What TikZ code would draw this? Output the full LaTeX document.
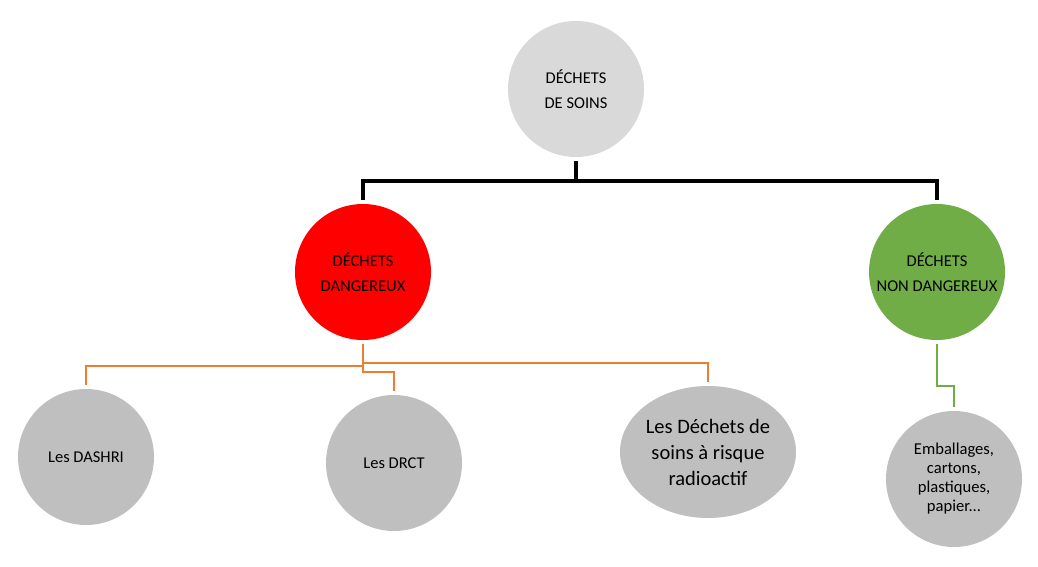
\documentclass[tikz,border=0pt]{standalone}
\usepackage{fontspec}
\setmainfont{Carlito}
\usepackage{tikz}
\usetikzlibrary{shapes.geometric,positioning,calc}
\definecolor{topgray}{HTML}{D9D9D9}
\definecolor{leafgray}{HTML}{BFBFBF}
\definecolor{dangred}{HTML}{FF0000}
\definecolor{nondanggreen}{HTML}{70AD47}
\definecolor{linkorange}{HTML}{ED7D31}

\begin{document}
\begin{tikzpicture}[x=1pt, y=-1pt,
    bubble/.style={circle, minimum size=136pt, inner sep=0pt, outer sep=4pt, align=center, text=black},
    oval/.style={ellipse, minimum width=176pt, minimum height=132pt, inner sep=0pt, outer sep=4pt, align=center, text=black},
    capsfont/.style={font=\fontsize{16.5}{25}\selectfont},
    leaffont/.style={font=\fontsize{16.6}{19}\selectfont},
    bigfont/.style={font=\fontsize{20.5}{26}\selectfont},
    blackline/.style={draw=black, line width=3.3pt},
    orangeline/.style={draw=linkorange, line width=2.8pt},
    greenline/.style={draw=nondanggreen, line width=2.8pt}]
    \useasboundingbox (0,0) rectangle (1038,567);

    % Root
    \node[bubble, fill=topgray, capsfont] (soins) at (576,89) {DÉCHETS\\DE SOINS};

    % Two families
    \node[bubble, fill=dangred, capsfont] (dang) at (363,272) {DÉCHETS\\DANGEREUX};
    \node[bubble, fill=nondanggreen, capsfont] (nondang) at (937,272) {DÉCHETS\\NON DANGEREUX};

    % Leaves
    \node[bubble, fill=leafgray, capsfont] (dashri) at (86,457) {Les DASHRI};
    \node[bubble, fill=leafgray, capsfont] (drct) at (394,463) {Les DRCT};
    \node[oval, fill=leafgray, bigfont] (radio) at (708,452) {Les Déchets de\\soins à risque\\radioactif};
    \node[bubble, fill=leafgray, leaffont] (embal) at (954,479) {Emballages,\\cartons,\\plastiques,\\papier...};

    % Connectors
    \draw[blackline] (soins.south) -- (soins.south |- 0,181) -| (dang.north);
    \draw[blackline] (soins.south) -- (soins.south |- 0,181) -| (nondang.north);

    \draw[orangeline] (dang.south) -- (dang.south |- 0,366) -| (dashri.north);
    \draw[orangeline] (dang.south) -- (dang.south |- 0,372) -| (drct.north);
    \draw[orangeline] (dang.south) -- (dang.south |- 0,363) -| (radio.north);

    \draw[greenline] (nondang.south) -- (nondang.south |- 0,386) -| (embal.north);
\end{tikzpicture}
\end{document}
